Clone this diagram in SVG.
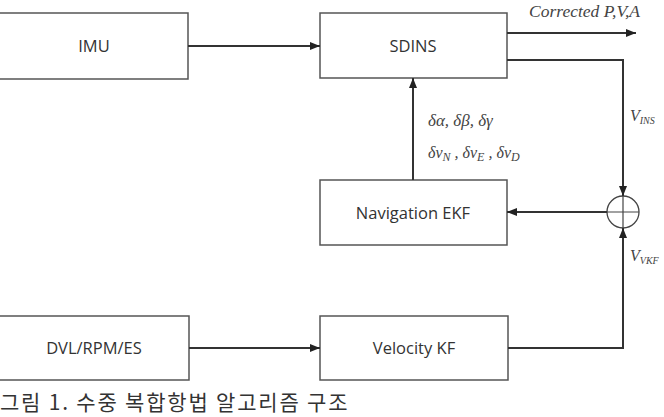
<svg xmlns="http://www.w3.org/2000/svg" width="664" height="417" viewBox="0 0 664 417">
<defs>
<marker id="ah" viewBox="0 0 10 8" refX="10" refY="4" markerWidth="10" markerHeight="8" markerUnits="userSpaceOnUse" orient="auto">
<path d="M0,0 L10,4 L0,8 Z" fill="#222"/>
</marker>
<style>
.box{fill:#fff;stroke:#555;stroke-width:1.5}
.lbl{font-family:"Open Sans","Noto Sans",sans-serif;font-size:16.5px;fill:#333;text-anchor:middle}
.ln{fill:none;stroke:#333;stroke-width:2}
.it{font-family:"Liberation Serif","DejaVu Serif",serif;font-style:italic;fill:#444}
.cap{font-family:"Noto Sans CJK KR",sans-serif;font-size:21px;letter-spacing:1.8px;fill:#333}
</style>
</defs>
<rect width="664" height="417" fill="#fff"/>
<g id="imu"><rect class="box" x="-1" y="13" width="189" height="66"/><text class="lbl" x="94" y="52">IMU</text></g>
<g id="sdins"><rect class="box" x="320" y="13" width="187" height="65"/><text class="lbl" x="413" y="52">SDINS</text></g>
<g id="navekf"><rect class="box" x="320" y="180" width="187" height="65"/><text class="lbl" x="413" y="219">Navigation EKF</text></g>
<g id="dvl"><rect class="box" x="-1" y="316" width="190" height="64"/><text class="lbl" x="94" y="354">DVL/RPM/ES</text></g>
<g id="velkf"><rect class="box" x="320" y="316" width="188" height="64"/><text class="lbl" x="414" y="354">Velocity KF</text></g>
<g id="sum"><circle cx="623" cy="212" r="16" fill="#fff" stroke="#444" stroke-width="1.3"/><path d="M607,212 H639 M623,196 V228" stroke="#444" stroke-width="1.2"/></g>
<g id="connectors">
<path class="ln" d="M188,46 H320" marker-end="url(#ah)"/>
<path class="ln" d="M507,33 H636" marker-end="url(#ah)"/>
<path class="ln" d="M507,60 H623 V196" marker-end="url(#ah)"/>
<path class="ln" d="M607,212 H507" marker-end="url(#ah)"/>
<path class="ln" d="M413,180 V78" marker-end="url(#ah)"/>
<path class="ln" d="M189,348 H320" marker-end="url(#ah)"/>
<path class="ln" d="M508,348 H623 V228" marker-end="url(#ah)"/>
</g>
<g id="labels">
<text class="it" x="529" y="17" font-size="17.5">Corrected P,V,A</text>
<text class="it" x="630" y="121" font-size="16">V<tspan font-size="10" dy="3">INS</tspan></text>
<text class="it" x="630" y="261" font-size="16">V<tspan font-size="10" dy="3">VKF</tspan></text>
<text class="it" x="428" y="126" font-size="17">δα, δβ, δγ</text>
<text class="it" x="428" y="158" font-size="16">δv<tspan font-size="12" dy="3">N</tspan><tspan dy="-3"> , δv</tspan><tspan font-size="12" dy="3">E</tspan><tspan dy="-3"> , δv</tspan><tspan font-size="12" dy="3">D</tspan></text>
</g>
<text class="cap" x="0" y="410">그림 1. 수중 복합항법 알고리즘 구조</text>
</svg>
